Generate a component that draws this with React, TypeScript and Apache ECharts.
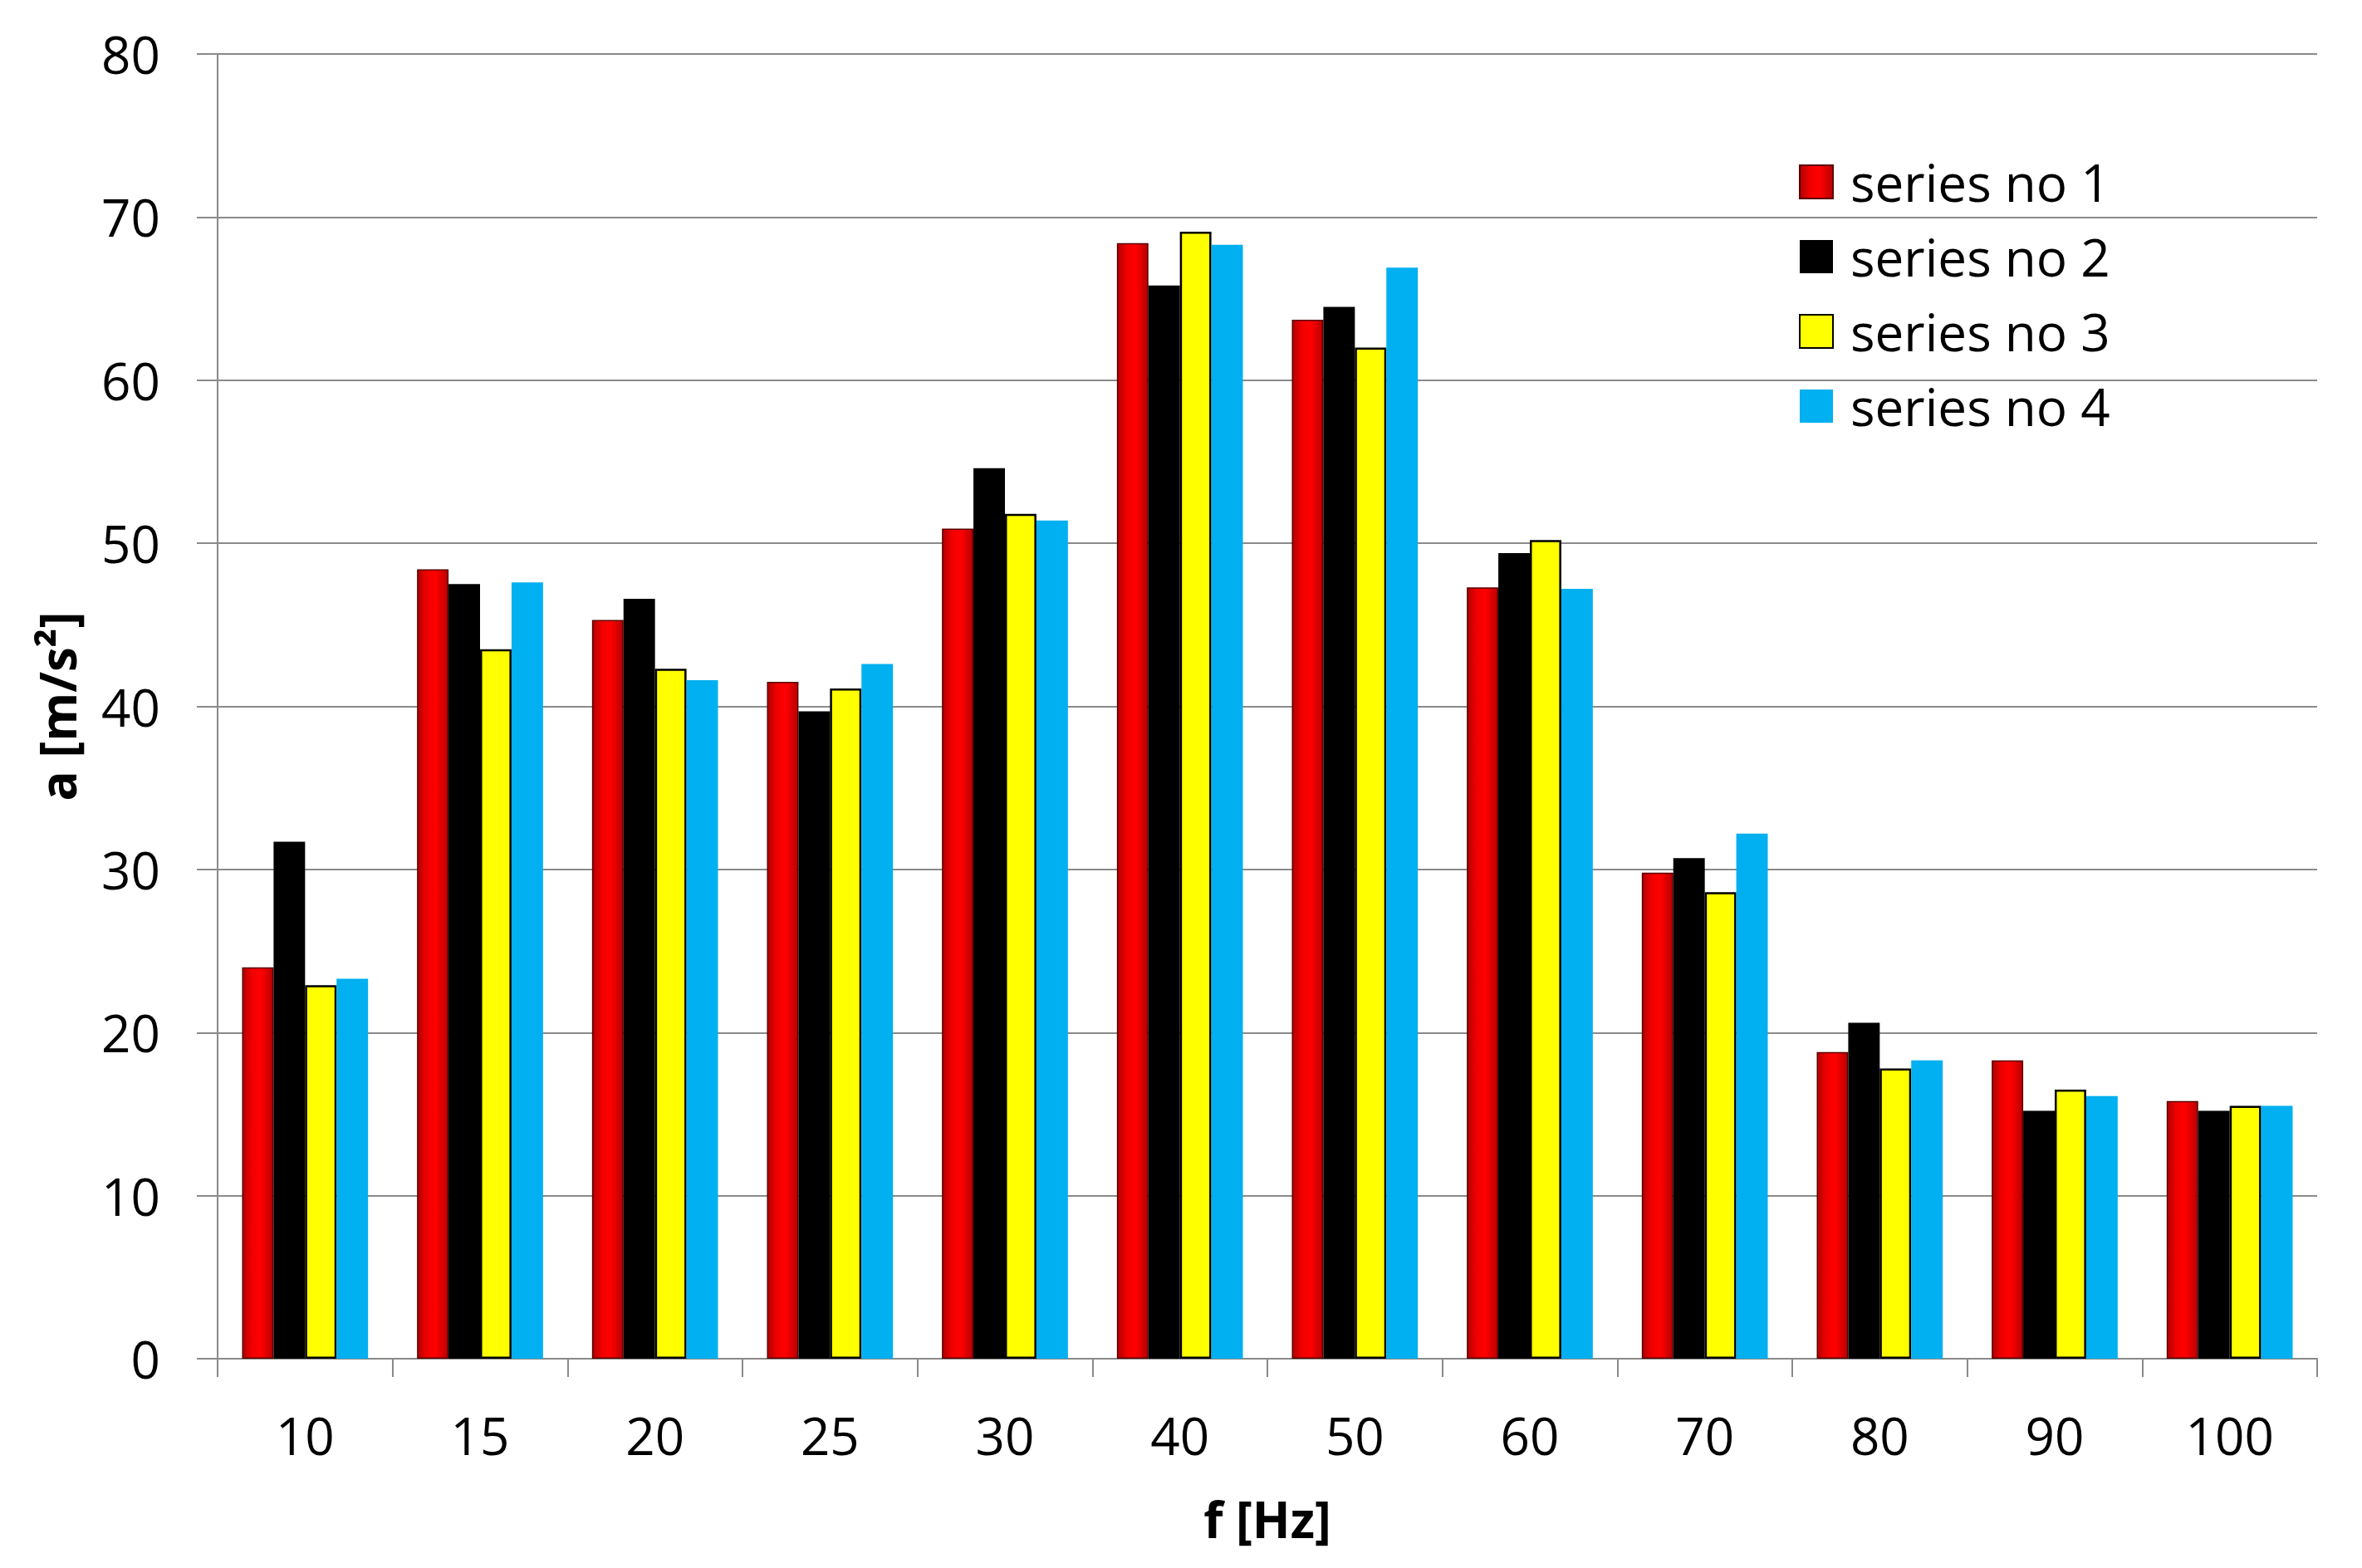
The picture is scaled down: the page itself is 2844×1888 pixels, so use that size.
import React, { useEffect, useRef } from "react";
import * as echarts from "echarts";

const categories = ["10", "15", "20", "25", "30", "40", "50", "60", "70", "80", "90", "100"];
const seriesNames = ["series no 1", "series no 2", "series no 3", "series no 4"];
const series1 = [24.0, 48.4, 45.3, 41.5, 50.9, 68.4, 63.7, 47.3, 29.8, 18.8, 18.3, 15.8];
const series2 = [31.7, 47.5, 46.6, 39.7, 54.6, 65.8, 64.5, 49.4, 30.7, 20.6, 15.2, 15.2];
const series3 = [22.9, 43.5, 42.3, 41.1, 51.8, 69.1, 62.0, 50.2, 28.6, 17.8, 16.5, 15.5];
const series4 = [23.3, 47.6, 41.6, 42.6, 51.4, 68.3, 66.9, 47.2, 32.2, 18.3, 16.1, 15.5];
const yTicks = { min: 0, max: 80, interval: 10 };

const FONT = "'Open Sans', 'Noto Sans', sans-serif";
const GRID_COLOR = "#8a8a8a";

export default function App() {
  const ref = useRef<HTMLDivElement>(null);

  useEffect(() => {
    document.body.style.margin = "0";
    if (!ref.current) return;
    const chart = echarts.init(ref.current, null, { renderer: "svg" });

    const redFill = new echarts.graphic.LinearGradient(0, 0, 1, 0, [
      { offset: 0, color: "#b00000" },
      { offset: 0.3, color: "#f00000" },
      { offset: 0.6, color: "#ff0000" },
      { offset: 1, color: "#b80000" },
    ]);

    const styles = [
      { color: redFill, borderColor: "#5a0000", borderWidth: 1.5 },
      { color: "#000000", borderColor: "#000000", borderWidth: 0 },
      { color: "#ffff00", borderColor: "#000000", borderWidth: 2.5 },
      { color: "#00b0f0", borderColor: "#00b0f0", borderWidth: 0 },
    ];
    const values = [series1, series2, series3, series4];

    chart.setOption({
      animation: false,
      backgroundColor: "#ffffff",
      grid: { left: 262, right: 54, top: 65, bottom: 252, containLabel: false },
      legend: {
        orient: "vertical",
        left: 2166,
        top: 188,
        padding: 0,
        itemWidth: 40,
        itemHeight: 40,
        itemGap: 28,
        icon: "rect",
        selectedMode: false,
        data: seriesNames,
        textStyle: {
          fontFamily: FONT,
          fontSize: 62,
          color: "#000000",
          padding: [0, 0, 0, 16],
        },
      },
      xAxis: {
        type: "category",
        data: categories,
        boundaryGap: true,
        name: "f [Hz]",
        nameLocation: "middle",
        nameGap: 162,
        nameTextStyle: {
          fontFamily: FONT,
          fontSize: 60,
          fontWeight: "bold",
          color: "#000000",
          lineHeight: 62,
        },
        axisLine: { show: true, lineStyle: { color: GRID_COLOR, width: 2 } },
        axisTick: { show: true, interval: 0, length: 22, lineStyle: { color: GRID_COLOR, width: 2 } },
        axisLabel: {
          interval: 0,
          margin: 61,
          fontFamily: FONT,
          fontSize: 62,
          lineHeight: 62,
          color: "#000000",
        },
        splitLine: { show: false },
      },
      yAxis: {
        type: "value",
        min: yTicks.min,
        max: yTicks.max,
        interval: yTicks.interval,
        name: "a [m/s²]",
        nameLocation: "middle",
        nameGap: 162,
        nameTextStyle: {
          fontFamily: FONT,
          fontSize: 60,
          fontWeight: "bold",
          color: "#000000",
          lineHeight: 62,
        },
        axisLine: { show: true, lineStyle: { color: GRID_COLOR, width: 2 } },
        axisTick: { show: true, length: 25, lineStyle: { color: GRID_COLOR, width: 2 } },
        axisLabel: {
          margin: 69,
          fontFamily: FONT,
          fontSize: 62,
          color: "#000000",
        },
        splitLine: { show: true, lineStyle: { color: GRID_COLOR, width: 2 } },
      },
      series: values.map((data, i) => ({
        name: seriesNames[i],
        type: "bar",
        data,
        barGap: "0%",
        barCategoryGap: "28%",
        itemStyle: styles[i],
        emphasis: { disabled: true },
      })),
    });

    return () => {
      chart.dispose();
    };
  }, []);

  return (
    <div
      ref={ref}
      style={{ position: "fixed", left: 0, top: 0, width: 2844, height: 1888 }}
    />
  );
}
